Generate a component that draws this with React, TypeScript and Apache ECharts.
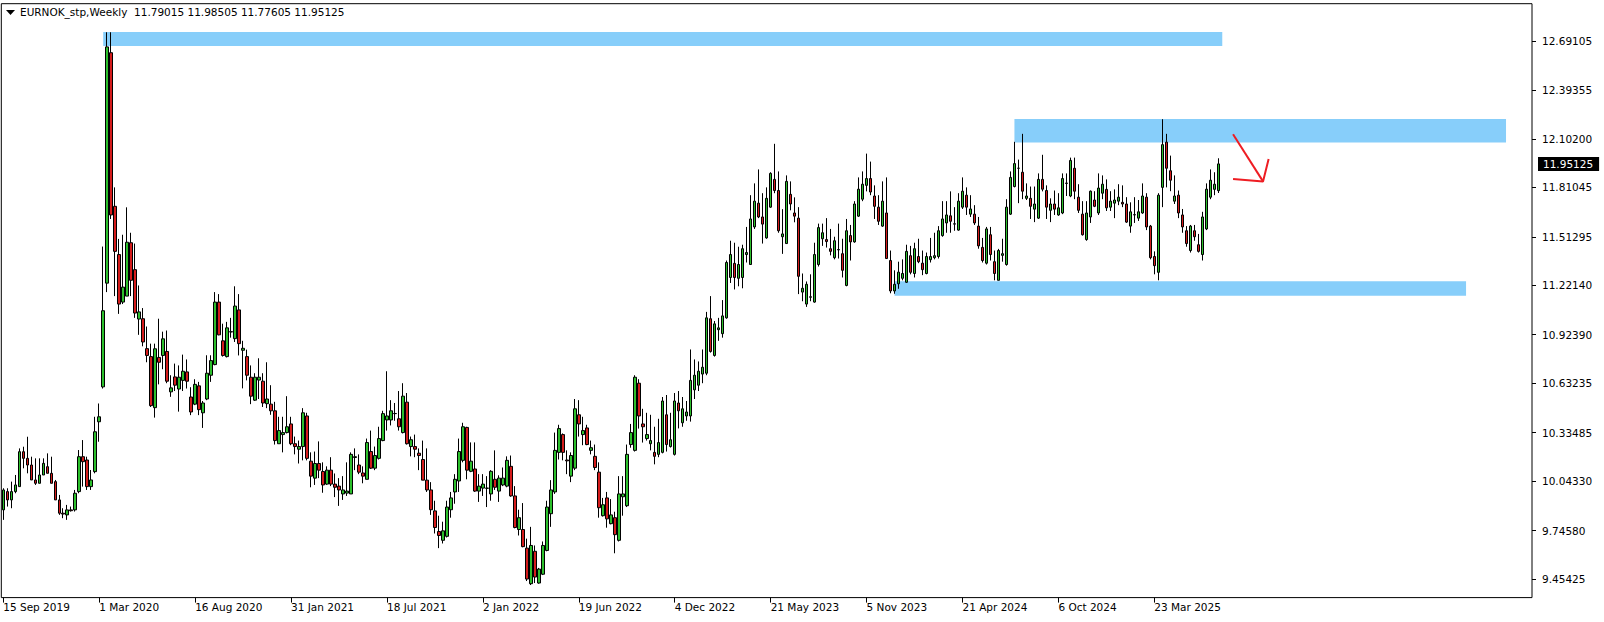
import React, { useEffect, useRef } from "react";
import * as echarts from "echarts";

// ---------- data ----------
const SYMBOL_TITLE = "EURNOK_stp,Weekly";
const FIRST_WEEK = Date.UTC(2019, 8, 15);
const WEEK_COUNT = 383; // weeks spanned by the visible time axis (data + empty right margin)
const LABEL_STEP = 24;

const PRICE_TICKS = [9.45425, 9.7458, 10.0433, 10.33485, 10.63235, 10.9239, 11.2214, 11.51295, 11.81045, 12.102, 12.39355, 12.69105];
const Y_MIN = 9.3424;
const Y_MAX = 12.9148;

// weekly bars: [open, high, low, close]
const bars: number[][] = [
  [9.87, 10.0, 9.81, 9.99], [9.98, 10.0, 9.89, 9.93], [9.93, 10.04, 9.88, 9.98], [9.98, 10.08, 9.97, 10.02],
  [10.01, 10.24, 10.01, 10.22], [10.22, 10.25, 10.12, 10.18], [10.18, 10.31, 10.09, 10.14], [10.14, 10.19, 10.05, 10.05],
  [10.05, 10.18, 10.02, 10.03], [10.03, 10.18, 10.03, 10.08], [10.08, 10.18, 10.08, 10.15], [10.13, 10.21, 10.09, 10.09],
  [10.09, 10.19, 10.03, 10.03], [10.04, 10.05, 9.93, 9.93], [9.93, 9.96, 9.84, 9.85], [9.85, 9.88, 9.82, 9.845],
  [9.84, 9.9, 9.81, 9.87], [9.87, 9.89, 9.86, 9.865], [9.87, 9.99, 9.86, 9.97], [9.98, 10.23, 9.97, 10.19],
  [10.19, 10.29, 10.01, 10.16], [10.17, 10.19, 9.99, 10.01], [10.01, 10.11, 9.99, 10.05], [10.1, 10.43, 10.09, 10.34],
  [10.4, 10.51, 10.28, 10.43], [10.61, 11.454, 10.6, 11.068], [11.234, 12.743, 11.18, 12.655], [12.62, 12.743, 11.62, 11.644],
  [11.696, 11.81, 11.156, 11.425], [11.406, 11.5, 11.049, 11.108], [11.12, 11.525, 11.108, 11.21], [11.156, 11.69, 11.156, 11.48],
  [11.477, 11.537, 11.156, 11.251], [11.315, 11.472, 11.025, 11.054], [11.018, 11.22, 10.923, 11.061], [11.02, 11.084, 10.854, 10.88],
  [10.84, 10.973, 10.758, 10.799], [10.792, 10.87, 10.489, 10.497], [10.485, 10.87, 10.425, 10.839], [10.787, 11.02, 10.625, 10.758],
  [10.799, 10.942, 10.716, 10.899], [10.823, 10.949, 10.632, 10.644], [10.58, 10.68, 10.55, 10.604], [10.67, 10.75, 10.585, 10.62],
  [10.597, 10.739, 10.461, 10.668], [10.649, 10.804, 10.585, 10.704], [10.7, 10.775, 10.6, 10.644], [10.549, 10.608, 10.44, 10.459],
  [10.506, 10.656, 10.5, 10.625], [10.616, 10.64, 10.44, 10.473], [10.454, 10.525, 10.363, 10.513], [10.537, 10.8, 10.53, 10.692],
  [10.68, 10.8, 10.64, 10.768], [10.744, 11.18, 10.74, 11.12], [11.12, 11.168, 10.92, 10.923], [10.887, 10.99, 10.792, 10.799],
  [10.792, 11.001, 10.787, 10.965], [10.94, 11.025, 10.906, 10.942], [10.9, 11.215, 10.88, 11.096], [11.073, 11.168, 10.799, 10.87],
  [10.83, 10.887, 10.601, 10.842], [10.792, 10.834, 10.649, 10.68], [10.668, 10.739, 10.506, 10.554], [10.53, 10.692, 10.525, 10.668],
  [10.651, 10.782, 10.537, 10.668], [10.644, 10.692, 10.489, 10.513], [10.509, 10.758, 10.482, 10.537], [10.506, 10.62, 10.442, 10.466],
  [10.466, 10.52, 10.263, 10.287], [10.268, 10.43, 10.268, 10.347], [10.323, 10.43, 10.216, 10.335], [10.335, 10.554, 10.33, 10.37],
  [10.387, 10.43, 10.259, 10.268], [10.268, 10.311, 10.204, 10.251], [10.235, 10.287, 10.149, 10.251], [10.251, 10.482, 10.168, 10.454],
  [10.435, 10.454, 10.168, 10.18], [10.163, 10.216, 10.006, 10.073], [10.061, 10.221, 10.02, 10.149], [10.149, 10.282, 10.061, 10.109],
  [10.101, 10.156, 9.973, 10.02], [10.025, 10.132, 10.02, 10.109], [10.109, 10.187, 10.013, 10.025], [10.025, 10.089, 9.947, 10.006],
  [10.013, 10.061, 9.894, 9.99], [9.966, 10.073, 9.93, 9.99], [9.971, 10.156, 9.954, 9.983], [9.966, 10.216, 9.966, 10.204],
  [10.185, 10.24, 10.109, 10.19], [10.14, 10.204, 10.085, 10.097], [10.092, 10.132, 10.03, 10.073], [10.054, 10.299, 10.054, 10.275],
  [10.221, 10.347, 10.116, 10.121], [10.121, 10.251, 10.109, 10.197], [10.18, 10.37, 10.173, 10.299], [10.287, 10.466, 10.283, 10.449],
  [10.411, 10.704, 10.347, 10.435], [10.411, 10.53, 10.378, 10.466], [10.45, 10.513, 10.406, 10.449], [10.418, 10.585, 10.347, 10.37],
  [10.335, 10.632, 10.33, 10.554], [10.518, 10.573, 10.263, 10.268], [10.251, 10.311, 10.192, 10.292], [10.251, 10.323, 10.187, 10.235],
  [10.211, 10.24, 10.109, 10.197], [10.173, 10.287, 10.049, 10.049], [10.049, 10.24, 9.978, 9.99], [9.99, 10.037, 9.84, 9.871],
  [9.864, 9.925, 9.728, 9.764], [9.74, 9.835, 9.64, 9.716], [9.687, 9.799, 9.668, 9.744], [9.711, 9.925, 9.704, 9.887],
  [9.871, 9.978, 9.823, 9.942], [9.978, 10.085, 9.907, 10.054], [10.044, 10.299, 9.978, 10.221], [10.168, 10.394, 10.156, 10.37],
  [10.366, 10.37, 10.054, 10.109], [10.102, 10.276, 10.097, 10.163], [10.116, 10.276, 9.978, 9.983], [9.983, 10.085, 9.918, 10.013],
  [10.001, 10.085, 9.954, 10.025], [10.0, 10.073, 9.887, 10.001], [9.966, 10.109, 9.925, 10.102], [10.054, 10.228, 9.99, 10.006],
  [9.983, 10.078, 9.918, 10.061], [10.02, 10.125, 10.013, 10.061], [10.013, 10.192, 10.006, 10.168], [10.132, 10.197, 9.949, 9.954],
  [9.954, 10.013, 9.759, 9.764], [9.752, 9.871, 9.716, 9.823], [9.752, 9.911, 9.645, 9.649], [9.64, 9.697, 9.442, 9.454],
  [9.426, 9.768, 9.418, 9.656], [9.621, 9.656, 9.43, 9.466], [9.43, 9.521, 9.426, 9.514], [9.483, 9.68, 9.478, 9.656],
  [9.626, 9.925, 9.621, 9.887], [9.847, 10.049, 9.768, 9.99], [9.978, 10.335, 9.966, 10.228], [10.216, 10.382, 10.173, 10.359],
  [10.323, 10.33, 10.168, 10.216], [10.17, 10.228, 10.085, 10.165], [10.073, 10.216, 10.037, 10.197], [10.121, 10.537, 10.109, 10.478],
  [10.442, 10.53, 10.311, 10.387], [10.323, 10.43, 10.259, 10.347], [10.363, 10.382, 10.259, 10.263], [10.228, 10.287, 10.204, 10.244],
  [10.192, 10.263, 10.109, 10.125], [10.097, 10.156, 9.823, 9.883], [9.835, 9.942, 9.83, 9.901], [9.942, 9.978, 9.763, 9.816],
  [9.787, 9.935, 9.783, 9.84], [9.823, 9.859, 9.609, 9.721], [9.687, 10.073, 9.68, 9.966], [9.949, 10.073, 9.835, 9.966],
  [9.895, 10.263, 9.887, 10.204], [10.263, 10.387, 10.244, 10.335], [10.228, 10.68, 10.221, 10.668], [10.632, 10.656, 10.359, 10.435],
  [10.387, 10.478, 10.275, 10.37], [10.299, 10.454, 10.287, 10.323], [10.268, 10.442, 10.228, 10.287], [10.216, 10.37, 10.144, 10.192],
  [10.204, 10.418, 10.187, 10.275], [10.216, 10.549, 10.21, 10.525], [10.442, 10.561, 10.221, 10.263], [10.251, 10.454, 10.245, 10.292],
  [10.204, 10.573, 10.197, 10.525], [10.513, 10.585, 10.36, 10.466], [10.394, 10.549, 10.37, 10.478], [10.435, 10.525, 10.406, 10.459],
  [10.435, 10.835, 10.401, 10.649], [10.592, 10.775, 10.537, 10.68], [10.62, 10.763, 10.585, 10.704], [10.687, 10.835, 10.632, 10.728],
  [10.692, 11.061, 10.68, 11.025], [11.02, 11.156, 10.816, 10.823], [10.799, 11.006, 10.792, 10.989], [10.954, 11.025, 10.887, 10.965],
  [10.93, 11.132, 10.906, 11.037], [11.025, 11.37, 11.02, 11.358], [11.268, 11.489, 11.235, 11.406], [11.353, 11.477, 11.196, 11.268],
  [11.263, 11.453, 11.215, 11.346], [11.268, 11.465, 11.203, 11.441], [11.406, 11.572, 11.358, 11.418], [11.346, 11.763, 11.346, 11.62],
  [11.572, 11.834, 11.56, 11.727], [11.715, 11.918, 11.625, 11.632], [11.632, 11.775, 11.472, 11.589], [11.506, 11.81, 11.501, 11.744],
  [11.691, 11.901, 11.687, 11.894], [11.858, 12.072, 11.775, 11.791], [11.791, 11.906, 11.537, 11.549], [11.513, 11.679, 11.41, 11.53],
  [11.472, 11.882, 11.472, 11.846], [11.768, 11.846, 11.672, 11.71], [11.656, 11.75, 11.6, 11.637], [11.625, 11.691, 11.168, 11.275],
  [11.18, 11.292, 11.125, 11.203], [11.108, 11.244, 11.091, 11.227], [11.149, 11.287, 11.125, 11.152], [11.12, 11.477, 11.116, 11.406],
  [11.346, 11.592, 11.334, 11.568], [11.501, 11.592, 11.458, 11.537], [11.496, 11.625, 11.448, 11.484], [11.441, 11.56, 11.401, 11.425],
  [11.387, 11.513, 11.377, 11.489], [11.434, 11.592, 11.382, 11.436], [11.411, 11.501, 11.268, 11.311], [11.22, 11.62, 11.215, 11.549],
  [11.52, 11.584, 11.37, 11.482], [11.482, 11.727, 11.477, 11.71], [11.637, 11.87, 11.632, 11.799], [11.739, 11.906, 11.727, 11.829],
  [11.822, 12.013, 11.786, 11.863], [11.863, 11.965, 11.763, 11.782], [11.758, 11.822, 11.62, 11.696], [11.691, 11.763, 11.584, 11.606],
  [11.577, 11.846, 11.572, 11.727], [11.656, 11.87, 11.382, 11.382], [11.37, 11.43, 11.173, 11.187], [11.187, 11.311, 11.17, 11.227],
  [11.23, 11.363, 11.2, 11.3], [11.263, 11.377, 11.251, 11.292], [11.239, 11.465, 11.235, 11.425], [11.399, 11.458, 11.287, 11.299],
  [11.292, 11.477, 11.268, 11.441], [11.394, 11.501, 11.354, 11.363], [11.354, 11.43, 11.282, 11.315], [11.292, 11.418, 11.287, 11.394],
  [11.375, 11.506, 11.358, 11.394], [11.387, 11.537, 11.377, 11.399], [11.394, 11.577, 11.382, 11.549], [11.52, 11.727, 11.513, 11.62],
  [11.596, 11.727, 11.537, 11.644], [11.639, 11.786, 11.537, 11.606], [11.589, 11.691, 11.549, 11.591], [11.553, 11.775, 11.549, 11.727],
  [11.691, 11.87, 11.68, 11.787], [11.763, 11.81, 11.644, 11.691], [11.649, 11.763, 11.632, 11.68], [11.649, 11.703, 11.584, 11.596],
  [11.577, 11.632, 11.441, 11.458], [11.449, 11.506, 11.358, 11.37], [11.354, 11.572, 11.346, 11.56], [11.525, 11.572, 11.37, 11.406],
  [11.363, 11.43, 11.251, 11.292], [11.251, 11.44, 11.251, 11.43], [11.401, 11.501, 11.363, 11.411], [11.346, 11.739, 11.339, 11.691],
  [11.649, 11.906, 11.644, 11.87], [11.815, 12.084, 11.81, 11.953], [11.925, 11.977, 11.715, 11.925], [11.901, 12.132, 11.739, 11.787],
  [11.744, 11.834, 11.734, 11.758], [11.744, 11.815, 11.62, 11.696], [11.679, 11.815, 11.601, 11.71], [11.625, 11.894, 11.62, 11.858],
  [11.858, 12.006, 11.786, 11.799], [11.791, 11.822, 11.62, 11.691], [11.672, 11.744, 11.601, 11.71], [11.71, 11.791, 11.644, 11.679],
  [11.644, 11.775, 11.639, 11.687], [11.656, 11.894, 11.649, 11.863], [11.834, 11.894, 11.758, 11.836], [11.758, 11.989, 11.751, 11.972],
  [11.925, 11.989, 11.739, 11.787], [11.751, 11.829, 11.656, 11.672], [11.649, 11.727, 11.52, 11.525], [11.496, 11.727, 11.489, 11.656],
  [11.632, 11.791, 11.596, 11.787], [11.734, 11.787, 11.691, 11.696], [11.656, 11.894, 11.644, 11.806], [11.775, 11.882, 11.739, 11.829],
  [11.798, 11.858, 11.668, 11.687], [11.691, 11.787, 11.668, 11.727], [11.715, 11.798, 11.625, 11.734], [11.727, 11.829, 11.703, 11.751],
  [11.72, 11.822, 11.691, 11.71], [11.71, 11.751, 11.596, 11.601], [11.577, 11.72, 11.537, 11.663], [11.644, 11.751, 11.596, 11.646],
  [11.625, 11.734, 11.608, 11.663], [11.656, 11.834, 11.651, 11.758], [11.751, 11.775, 11.553, 11.572], [11.577, 11.584, 11.377, 11.387],
  [11.394, 11.425, 11.287, 11.339], [11.299, 11.775, 11.251, 11.763], [11.81, 12.22, 11.691, 12.067], [12.082, 12.132, 11.81, 11.925],
  [11.91, 12.001, 11.787, 11.853], [11.727, 11.882, 11.71, 11.758], [11.763, 11.791, 11.625, 11.656], [11.644, 11.68, 11.537, 11.572],
  [11.549, 11.577, 11.453, 11.472], [11.43, 11.584, 11.418, 11.577], [11.549, 11.584, 11.489, 11.513], [11.465, 11.53, 11.418, 11.425],
  [11.406, 11.663, 11.37, 11.632], [11.56, 11.834, 11.553, 11.799], [11.751, 11.918, 11.739, 11.853], [11.798, 11.901, 11.763, 11.829],
  [11.79015, 11.98505, 11.77605, 11.95125],
];

// drawn objects, in (week index, price)
const zones = [
  { from: 25, to: 305, low: 12.66, high: 12.745 },
  { from: 253, to: 376, low: 12.08, high: 12.222 },
  { from: 223, to: 366, low: 11.158, high: 11.245 },
];
const arrowShaft = [[307.7, 12.13], [315.2, 11.846]];
const arrowHead = [[307.7, 11.86], [315.2, 11.846], [316.6, 11.98]];

const MONTHS = ["Jan", "Feb", "Mar", "Apr", "May", "Jun", "Jul", "Aug", "Sep", "Oct", "Nov", "Dec"];
const categories: string[] = Array.from({ length: WEEK_COUNT }, (_, i) => {
  const d = new Date(FIRST_WEEK + i * 7 * 86400000);
  return `${d.getUTCDate()} ${MONTHS[d.getUTCMonth()]} ${d.getUTCFullYear()}`;
});

const FONT = "DejaVu Sans";
const BULL = "#2cbf2c";
const BEAR = "#d41c1c";
const ZONE = "#87cefa";
const ARROW = "#ee1d23";

export default function App() {
  const ref = useRef<HTMLDivElement>(null);
  useEffect(() => {
    if (!ref.current) return;
    const chart = echarts.init(ref.current, undefined, { renderer: "svg" });
    const last = bars[bars.length - 1];
    const showIdx = (i: number) => i % LABEL_STEP === 0 && i < bars.length;
    const n = categories.length;
    chart.setOption({
      animation: false,
      backgroundColor: "#ffffff",
      textStyle: { fontFamily: FONT },
      grid: {
        left: 1.3, right: 72, top: 3.7, bottom: 24.4,
        show: true, borderColor: "#000", borderWidth: 1, backgroundColor: "transparent",
      },
      xAxis: [
        {
          type: "category",
          data: categories,
          boundaryGap: true,
          axisLine: { show: false, onZero: false },
          axisTick: { show: true, alignWithLabel: true, length: 5, interval: (i: number) => showIdx(i), lineStyle: { color: "#000" } },
          axisLabel: { interval: (i: number) => showIdx(i), align: "left", margin: 4, color: "#000", fontSize: 10.5, fontFamily: FONT },
          splitLine: { show: false },
        },
        { type: "value", min: -0.5, max: n - 0.5, show: false, axisLine: { onZero: false } },
      ],
      yAxis: [
        {
          type: "value", position: "right", min: Y_MIN, max: Y_MAX,
          axisLine: { show: false, onZero: false },
          axisTick: { show: true, length: 4, customValues: PRICE_TICKS, lineStyle: { color: "#000" } },
          axisLabel: { customValues: PRICE_TICKS, formatter: (v: number) => v.toFixed(5), margin: 10, color: "#000", fontSize: 10.5, fontFamily: FONT },
          splitLine: { show: false },
        },
        {
          type: "value", position: "right", min: Y_MIN, max: Y_MAX,
          axisLine: { show: false, onZero: false }, axisTick: { show: false }, splitLine: { show: false },
          axisLabel: {
            customValues: [last[3]], formatter: (v: number) => v.toFixed(5), margin: 6,
            color: "#fff", backgroundColor: "#000", padding: [2, 6, 1, 5], fontSize: 10.5, fontFamily: FONT,
          },
        },
      ],
      series: [
        {
          type: "line", xAxisIndex: 1, yAxisIndex: 0, data: [], z: 1, silent: true,
          markArea: {
            silent: true,
            itemStyle: { color: ZONE, opacity: 1, borderWidth: 0 },
            data: zones.map((zn) => [{ coord: [zn.from, zn.high] }, { coord: [zn.to, zn.low] }]),
          },
        },
        {
          type: "candlestick", xAxisIndex: 0, yAxisIndex: 0, z: 3, barWidth: 3,
          data: bars.map((b) => [b[0], b[3], b[2], b[1]]),
          itemStyle: { color: BULL, color0: BEAR, borderColor: "#000", borderColor0: "#000", borderWidth: 1 },
        },
        {
          type: "line", xAxisIndex: 1, yAxisIndex: 0, z: 4, silent: true, symbol: "none",
          data: arrowShaft, lineStyle: { color: ARROW, width: 2 },
        },
        {
          type: "line", xAxisIndex: 1, yAxisIndex: 0, z: 4, silent: true, symbol: "none",
          data: arrowHead, lineStyle: { color: ARROW, width: 2 },
        },
      ],
      graphic: [
        { type: "polygon", shape: { points: [[6, 10], [15, 10], [10.5, 15]] }, style: { fill: "#000" } },
        {
          type: "text", left: 20, top: 6,
          style: {
            text: `${SYMBOL_TITLE}  ${last.map((v) => v.toFixed(5)).join(" ")}`,
            font: `10.5px "${FONT}"`, fill: "#000",
          },
        },
      ],
    });
    return () => chart.dispose();
  }, []);
  return <div ref={ref} style={{ position: "absolute", left: 0, top: 0, width: 1604, height: 622 }} />;
}
